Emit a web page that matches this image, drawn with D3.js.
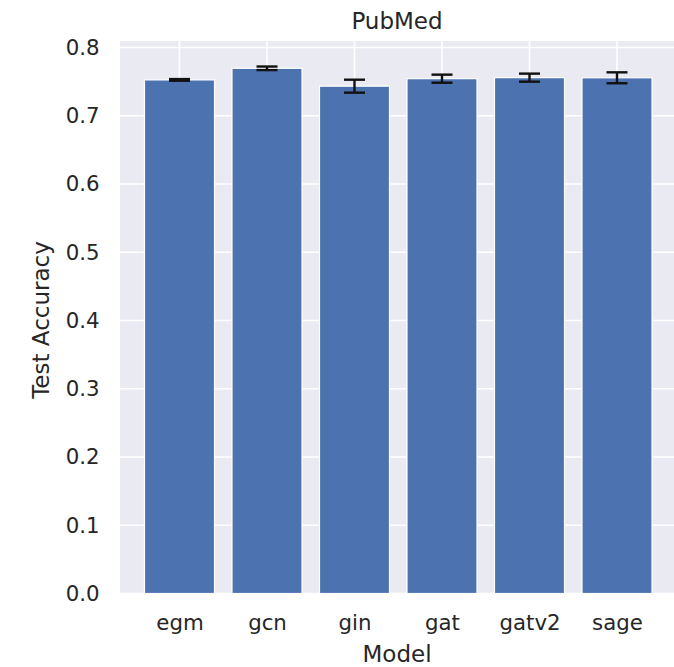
<!DOCTYPE html>
<html>
<head>
<meta charset="utf-8">
<script src="https://cdn.jsdelivr.net/npm/d3@7"></script>
<style>
  html, body { margin: 0; padding: 0; background: #fff; }
  svg { display: block; }
  text { font-family: "DejaVu Sans", sans-serif; fill: #262626; }
</style>
</head>
<body>
<svg id="chart" width="674" height="667"></svg>
<script>
const categories = ["egm", "gcn", "gin", "gat", "gatv2", "sage"];
const meanAccuracy = [0.7525, 0.7695, 0.7433, 0.7543, 0.7558, 0.7556];
const stdAccuracy = [0.0012, 0.0026, 0.0095, 0.0059, 0.0059, 0.0080];
const yTicks = [0.0, 0.1, 0.2, 0.3, 0.4, 0.5, 0.6, 0.7, 0.8];
const chartTitle = "PubMed";
const xLabel = "Model";
const yLabel = "Test Accuracy";

const svg = d3.select("#chart");
const pL = 120, pR = 676.5, pT = 41, pB = 593.5;
const tickFont = "21.3px", labelFont = "23px";

// x: linear in category index, matplotlib-style margins
const xIdx = d3.scaleLinear().domain([-0.68, categories.length - 1 + 0.68]).range([pL, pR]);
const y = d3.scaleLinear().domain([0, 0.8095]).range([pB, pT]);
const barW = xIdx(0.4) - xIdx(-0.4);

// background
svg.append("rect").attr("x", pL).attr("y", pT)
  .attr("width", pR - pL).attr("height", pB - pT).attr("fill", "#EAEAF2");

// grid lines
const grid = svg.append("g");
grid.selectAll("line.h").data(yTicks).join("line")
  .attr("x1", pL).attr("x2", pR)
  .attr("y1", d => y(d)).attr("y2", d => y(d))
  .attr("stroke", "#fff").attr("stroke-width", 1.6);
grid.selectAll("line.v").data(categories).join("line")
  .attr("x1", (d, i) => xIdx(i)).attr("x2", (d, i) => xIdx(i))
  .attr("y1", pT).attr("y2", pB)
  .attr("stroke", "#fff").attr("stroke-width", 1.6);

// bars
svg.append("g").selectAll("rect").data(meanAccuracy).join("rect")
  .attr("x", (d, i) => xIdx(i) - barW / 2)
  .attr("width", barW)
  .attr("y", d => y(d))
  .attr("height", d => y(0) - y(d))
  .attr("fill", "#4C72B0")
  .attr("stroke", "#fff").attr("stroke-width", 1.2);

// error bars
const eb = svg.append("g").attr("stroke", "#111").attr("stroke-width", 2.4);
meanAccuracy.forEach((m, i) => {
  const cx = xIdx(i), s = stdAccuracy[i];
  eb.append("line").attr("x1", cx).attr("x2", cx).attr("y1", y(m - s)).attr("y2", y(m + s));
  eb.append("line").attr("x1", cx - 10.5).attr("x2", cx + 10.5).attr("y1", y(m - s)).attr("y2", y(m - s));
  eb.append("line").attr("x1", cx - 10.5).attr("x2", cx + 10.5).attr("y1", y(m + s)).attr("y2", y(m + s));
});

// y axis
const yAxis = d3.axisLeft(y).tickValues(yTicks).tickFormat(d3.format(".1f")).tickSize(0).tickPadding(20.5);
const yg = svg.append("g").attr("transform", `translate(${pL},0)`).call(yAxis);
yg.select(".domain").remove();
yg.selectAll("text").style("font-size", tickFont).attr("fill", "#262626")
  .attr("font-family", "DejaVu Sans, sans-serif");

// x axis
const xBand = d3.scaleOrdinal().domain(categories).range(categories.map((c, i) => xIdx(i)));
const xAxis = d3.axisBottom(xBand).tickSize(0).tickPadding(21);
const xg = svg.append("g").attr("transform", `translate(0,${pB})`).call(xAxis);
xg.select(".domain").remove();
xg.selectAll("text").style("font-size", tickFont).attr("fill", "#262626")
  .attr("font-family", "DejaVu Sans, sans-serif");

// title & labels
svg.append("text").attr("x", 397).attr("y", 29)
  .attr("text-anchor", "middle").style("font-size", labelFont).text(chartTitle);
svg.append("text").attr("x", 397).attr("y", 661.5)
  .attr("text-anchor", "middle").style("font-size", labelFont).text(xLabel);
svg.append("text").attr("transform", `translate(49,320) rotate(-90)`)
  .attr("text-anchor", "middle").style("font-size", labelFont).text(yLabel);
</script>
</body>
</html>
